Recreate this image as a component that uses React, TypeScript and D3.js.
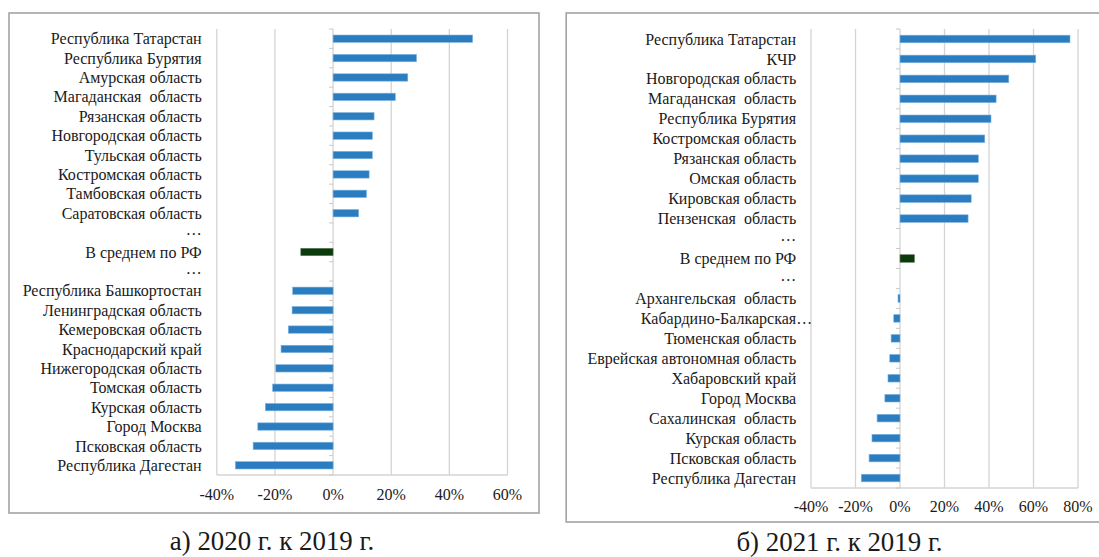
import React from "react";
import * as d3 from "d3";

const categories2020 = [
  "Республика Татарстан", "Республика Бурятия", "Амурская область", "Магаданская  область",
  "Рязанская область", "Новгородская область", "Тульская область", "Костромская область",
  "Тамбовская область", "Саратовская область", "…", "В среднем по РФ", "…",
  "Республика Башкортостан", "Ленинградская область", "Кемеровская область", "Краснодарский край",
  "Нижегородская область", "Томская область", "Курская область", "Город Москва",
  "Псковская область", "Республика Дагестан",
];
const values2020: (number | null)[] = [
  48, 28.7, 25.7, 21.4, 14.1, 13.5, 13.5, 12.4, 11.5, 8.8, null, -11.1, null,
  -13.9, -14.1, -15.4, -17.9, -19.7, -20.8, -23.3, -25.9, -27.5, -33.6,
];
const ticks2020 = [-40, -20, 0, 20, 40, 60];

const categories2021 = [
  "Республика Татарстан", "КЧР", "Новгородская область", "Магаданская  область",
  "Республика Бурятия", "Костромская область", "Рязанская область", "Омская область",
  "Кировская область", "Пензенская  область", "…", "В среднем по РФ", "…",
  "Архангельская  область", "Кабардино-Балкарская…", "Тюменская область", "Еврейская автономная область",
  "Хабаровский край", "Город Москва", "Сахалинская  область", "Курская область",
  "Псковская область", "Республика Дагестан",
];
const values2021: (number | null)[] = [
  76.4, 61, 48.9, 43.2, 40.9, 38.1, 35.2, 35.2, 32, 30.6, null, 6.5, null,
  -0.9, -2.8, -4, -4.6, -5.4, -6.8, -10.3, -12.6, -13.9, -17.4,
];
const ticks2021 = [-40, -20, 0, 20, 40, 60, 80];

const AVG = "В среднем по РФ";
const BLUE = "#2a7dc0";
const GREEN = "#0b3a0c";
const GRID = "#d4d4d4";
const TEXT = "#1a1a1a";
const FONT = "Liberation Serif, Times New Roman, DejaVu Serif, serif";
const FS = 16;

type PanelProps = {
  cats: string[];
  vals: (number | null)[];
  ticks: number[];
  box: [number, number, number, number];
  xRange: [number, number];
  yRange: [number, number];
  labelX: number;
  tickY: number;
  caption: string;
  captionX: number;
  captionY: number;
};

function Panel(p: PanelProps) {
  const x = d3.scaleLinear().domain([p.ticks[0], p.ticks[p.ticks.length - 1]]).range(p.xRange);
  const idx = p.cats.map((_, i) => String(i));
  const y = d3.scaleBand().domain(idx).range(p.yRange).paddingInner(0.62).paddingOuter(0.31);
  const step = y.step();
  const x0 = x(0);
  const [bx, by, bw, bh] = p.box;
  return (
    <g>
      <rect x={bx} y={by} width={bw} height={bh} fill="white" stroke="#a3a3a3" strokeWidth={1.6} />
      {p.ticks.filter((t) => t !== 0).map((t) => (
        <line key={"g" + t} x1={x(t)} x2={x(t)} y1={p.yRange[0]} y2={p.yRange[1]} stroke={GRID} strokeWidth={1.3} />
      ))}
      <line x1={p.xRange[0]} x2={p.xRange[1]} y1={p.yRange[1]} y2={p.yRange[1]} stroke={GRID} strokeWidth={1.3} />
      <line x1={x0} x2={x0} y1={p.yRange[0]} y2={p.yRange[1]} stroke={GRID} strokeWidth={1.3} />
      {d3.range(p.cats.length + 1).map((i) => {
        const yy = p.yRange[0] + i * step;
        return <line key={"t" + i} x1={x0 - 4} x2={x0} y1={yy} y2={yy} stroke="#c8c8c8" strokeWidth={1} />;
      })}
      {p.vals.map((v, i) => {
        if (v === null) return null;
        const yy = y(String(i))!;
        const isAvg = p.cats[i] === AVG;
        return (
          <rect
            key={"b" + i}
            x={Math.min(x(v), x0)}
            y={yy}
            width={Math.abs(x(v) - x0)}
            height={y.bandwidth()}
            fill={isAvg ? GREEN : BLUE}
            stroke={isAvg ? "#5d7d5d" : "#7fb3dd"}
            strokeWidth={0.6}
          />
        );
      })}
      {p.cats.map((c, i) => {
        const cy = y(String(i))! + y.bandwidth() / 2;
        if (c.endsWith("…") && c.length > 1) {
          const main = c.slice(0, -1);
          return (
            <g key={"l" + i}>
              <text x={p.labelX} y={cy} dy="0.35em" textAnchor="end" fontSize={FS} fill={TEXT}>{main}</text>
              <text x={p.labelX} y={cy} dy="0.35em" textAnchor="start" fontSize={FS} fill={TEXT}>…</text>
            </g>
          );
        }
        return (
          <text key={"l" + i} x={p.labelX} y={cy} dy={c === "…" ? "0.15em" : "0.35em"} textAnchor="end" fontSize={FS} fill={TEXT} style={{ whiteSpace: "pre" }}>
            {c}
          </text>
        );
      })}
      {p.ticks.map((t) => (
        <text key={"x" + t} x={x(t)} y={p.tickY} dy="0.35em" textAnchor="middle" fontSize={FS} fill={TEXT}>
          {t + "%"}
        </text>
      ))}
      <text transform={`translate(${p.captionX},${p.captionY}) scale(0.96,1)`} textAnchor="middle" fontSize={28} fill={TEXT}>
        {p.caption}
      </text>
    </g>
  );
}

export default function App() {
  return (
    <svg width={1099} height={557} fontFamily={FONT} style={{ position: "absolute", left: 0, top: 0, background: "white", fontFamily: FONT }}>
      <rect x={0} y={0} width={1099} height={557} fill="white" />
      <Panel
        cats={categories2020}
        vals={values2020}
        ticks={ticks2020}
        box={[9, 13, 530, 500]}
        xRange={[216.8, 507.5]}
        yRange={[29, 475]}
        labelX={201.7}
        tickY={494}
        caption="а) 2020 г. к 2019 г."
        captionX={272}
        captionY={550}
      />
      <Panel
        cats={categories2021}
        vals={values2021}
        ticks={ticks2021}
        box={[566.2, 13, 545, 509]}
        xRange={[811, 1078]}
        yRange={[29, 488]}
        labelX={796.2}
        tickY={506}
        caption="б) 2021 г. к 2019 г."
        captionX={839.5}
        captionY={551}
      />
    </svg>
  );
}
